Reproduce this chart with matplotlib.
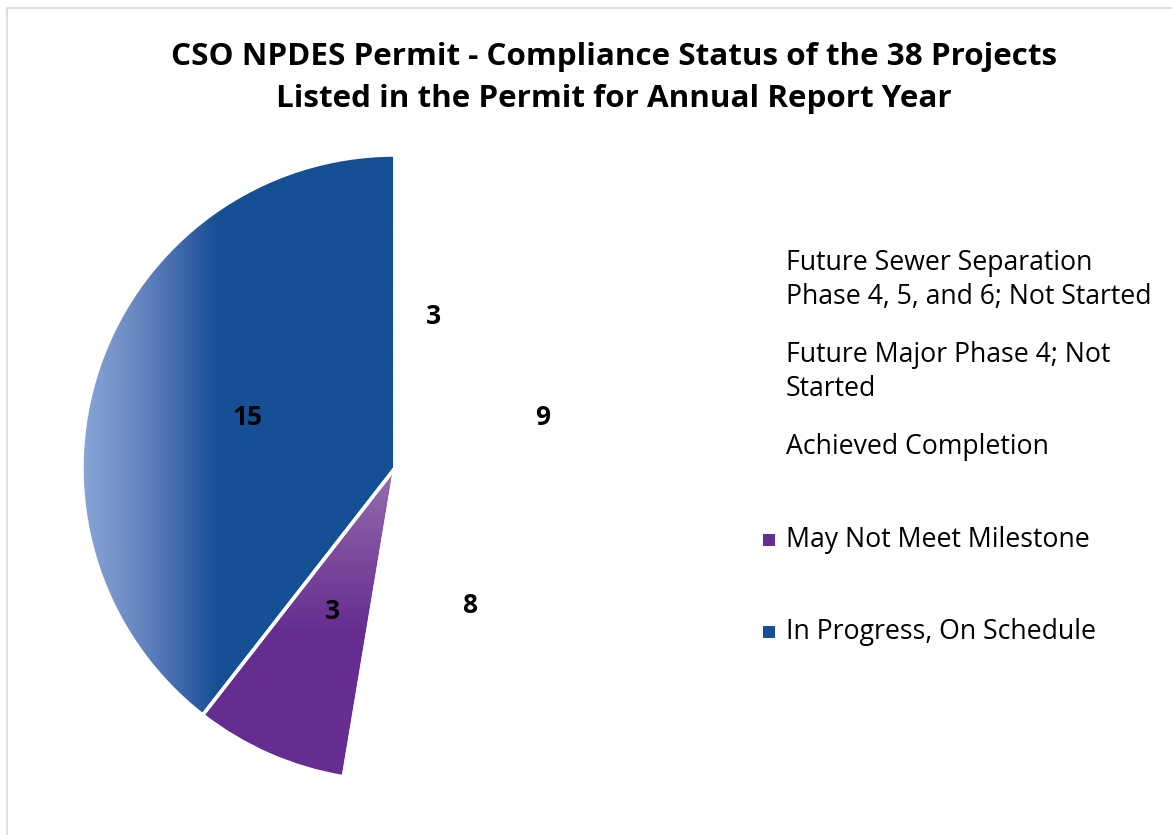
import numpy as np
import matplotlib
matplotlib.use("Agg")
from matplotlib import pyplot as plt
from matplotlib.colors import LinearSegmentedColormap
from matplotlib.patches import Rectangle

title = "CSO NPDES Permit - Compliance Status of the 38 Projects\nListed in the Permit for Annual Report Year"

categories = [
    "In Progress, On Schedule",
    "May Not Meet Milestone",
    "Achieved Completion",
    "Future Major Phase 4; Not\nStarted",
    "Future Sewer Separation\nPhase 4, 5, and 6; Not Started",
]
counts = [15, 3, 8, 9, 3]
colors = ["#154F94", "#662D91", "white", "white", "white"]

plt.rcParams["font.family"] = ["Open Sans", "DejaVu Sans"]

W, H = 1172, 835
fig = plt.figure(figsize=(W / 100, H / 100), dpi=100)

# thin gray frame (only left/top edge visible in the original crop)
fig.patches.append(Rectangle((7 / W, -0.1), 1.2, (H - 8) / H + 0.1, transform=fig.transFigure,
                             fill=False, edgecolor="#D9D9D9", linewidth=1.2))

fig.text(614 / W, 1 - 78 / H, title, ha="center", va="center", fontsize=22.6,
         fontweight="bold", linespacing=1.5)

cx, cy, r = 395, 468, 313
ax = fig.add_axes([(cx - r) / W, (H - cy - r) / H, 2 * r / W, 2 * r / H])

total = sum(counts)
wedges, texts, autotexts = ax.pie(
    counts, colors=colors, startangle=90, counterclock=True, radius=1,
    autopct=lambda p: f"{round(p * total / 100)}", pctdistance=0.5,
    wedgeprops=dict(edgecolor="white", linewidth=2.5),
    textprops=dict(fontsize=19, fontweight="bold", color="black"),
)

# gradient fills for the two coloured slices
blue_cmap = LinearSegmentedColormap.from_list(
    "b", [(0, "#86A4D6"), (0.06, "#7392C8"), (0.13, "#5174B4"), (0.215, "#154F94"), (1, "#154F94")])
purple_cmap = LinearSegmentedColormap.from_list(
    "p", [(0, "#662D91"), (0.48, "#662D91"), (0.7, "#7A479C"), (1, "#9670B0")])

gx = np.linspace(0, 1, 512)[None, :]
im = ax.imshow(gx, cmap=blue_cmap, extent=(-1, 1, -1, 1), aspect="auto", zorder=0.5, origin="lower")
im.set_clip_path(wedges[0])

gy = np.linspace(0, 1, 256)[:, None]
im2 = ax.imshow(gy, cmap=purple_cmap, extent=(-1, 1, -1, 0), aspect="auto", zorder=0.5, origin="lower")
im2.set_clip_path(wedges[1])

ax.set_xlim(-1, 1)
ax.set_ylim(-1, 1)
ax.set_aspect("equal")
ax.axis("off")

for w in wedges[:2]:
    w.set_facecolor("none")
    w.set_zorder(1)
for t in autotexts:
    t.set_zorder(3)

# legend, drawn in reverse order like the source
legend_y = [280, 372, 447, 540, 632]
for lab, col, y in zip(categories[::-1], colors[::-1], legend_y):
    fig.text(786 / W, 1 - y / H, lab, ha="left", va="center", fontsize=19.2, linespacing=1.3)
    if col != "white":
        fig.patches.append(Rectangle((763 / W, 1 - (y + 6) / H), 12 / W, 12 / H,
                                     transform=fig.transFigure, facecolor=col, edgecolor="none"))

fig.savefig("out.png", dpi=100)
